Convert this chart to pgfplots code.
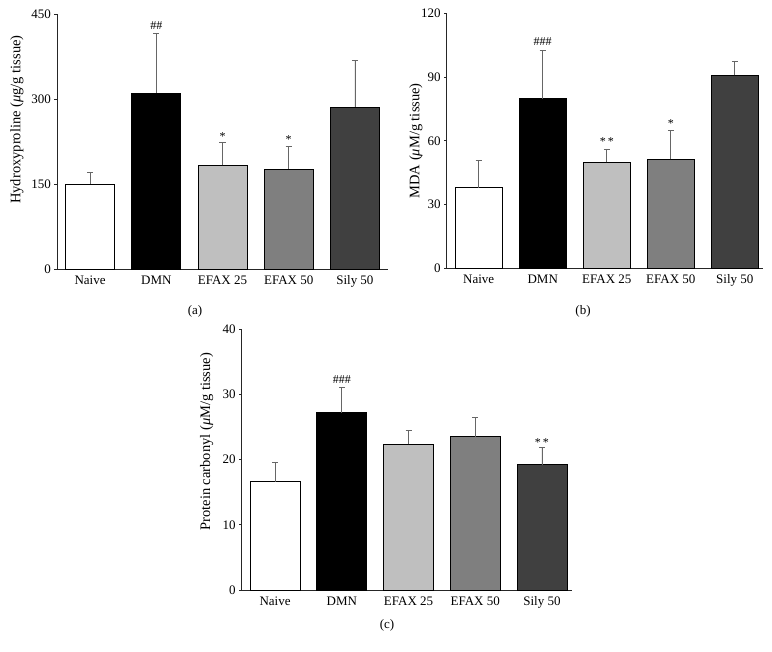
\documentclass[border=0pt]{standalone}
\usepackage{pgfplots}
\pgfplotsset{compat=1.18}
\usepackage{fontspec}
\setmainfont{Liberation Serif}
\definecolor{cA}{HTML}{FFFFFF}
\definecolor{cB}{HTML}{000000}
\definecolor{cC}{HTML}{BFBFBF}
\definecolor{cD}{HTML}{7F7F7F}
\definecolor{cE}{HTML}{404040}
\pgfplotsset{panel/.style={
  scale only axis, anchor=south west, clip=false,
  axis lines=left, axis line style={-, black!85, line width=0.7bp},
  ymin=0, xmin=-0.5,
  xtick={0,1,2,3,4}, xticklabels={Naive,DMN,EFAX 25,EFAX 50,Sily 50},
  x tick style={draw=none},
  y tick style={black!85, line width=0.6bp}, tick align=outside, major tick length=2.5bp,
  ybar, bar shift=0pt,
  tick label style={font=\fontsize{13bp}{15bp}\selectfont},
  x tick label style={text height=9bp, text depth=3bp},
  /pgf/number format/assume math mode=true,
  ylabel style={font=\fontsize{14.5bp}{16bp}\selectfont, anchor=center},
  every axis plot/.append style={draw=black, line width=0.7bp,
    /pgfplots/error bars/y dir=plus, /pgfplots/error bars/y explicit,
    /pgfplots/error bars/error mark=-,
    /pgfplots/error bars/error bar style={black!60, line width=0.7bp},
    /pgfplots/error bars/error mark options={rotate=90, mark size=3bp, black!60, line width=0.7bp}},
}}
\newcommand{\sig}{\fontsize{12bp}{13bp}\selectfont}
\begin{document}
\begin{tikzpicture}
\path[use as bounding box] (0,0) rectangle (772bp,652bp);
% (a)
\begin{axis}[panel, at={(57bp,383bp)}, width=331bp, height=255bp, bar width=49bp,
  xmax=4.5, ymax=450, ytick={0,150,300,450},
  ylabel={Hydroxyproline (\textit{μ}g/g tissue)},
  ylabel style={at={(axis description cs:-0.121,0.586)}}]
\addplot[fill=cA] coordinates {(0,150) +- (0,20.6)};
\addplot[fill=cB] coordinates {(1,310.6) +- (0,105.4)};
\addplot[fill=cC] coordinates {(2,183) +- (0,40)};
\addplot[fill=cD] coordinates {(3,176.5) +- (0,40)};
\addplot[fill=cE] coordinates {(4,286) +- (0,82)};
\node[font=\sig] at (axis cs:1,430) {\#\#};
\node[font=\sig] at (axis cs:2,234) {*};
\node[font=\sig] at (axis cs:3,228) {*};
\end{axis}
% (b)
\begin{axis}[panel, at={(446.7bp,383.7bp)}, width=316.3bp, height=255bp, bar width=47bp,
  xmax=4.44, ymax=120, ytick={0,30,60,90,120},
  ylabel={MDA (\textit{μ}M/g tissue)},
  ylabel style={at={(axis description cs:-0.097,0.5)}}]
\addplot[fill=cA] coordinates {(0,38) +- (0,12.7)};
\addplot[fill=cB] coordinates {(1,79.8) +- (0,22.9)};
\addplot[fill=cC] coordinates {(2,49.9) +- (0,6.3)};
\addplot[fill=cD] coordinates {(3,51.3) +- (0,13.6)};
\addplot[fill=cE] coordinates {(4,90.8) +- (0,6.8)};
\node[font=\sig] at (axis cs:1,106.6) {\#\#\#};
\node[font=\sig] at (axis cs:2,59.4) {*\,*};
\node[font=\sig] at (axis cs:3,68) {*};
\end{axis}
% (c)
\begin{axis}[panel, at={(241.7bp,62bp)}, width=330.3bp, height=261bp, bar width=50bp,
  xmax=4.45, ymax=40, ytick={0,10,20,30,40},
  ylabel={Protein carbonyl (\textit{μ}M/g tissue)},
  ylabel style={at={(axis description cs:-0.106,0.568)}}]
\addplot[fill=cA] coordinates {(0,16.6) +- (0,2.9)};
\addplot[fill=cB] coordinates {(1,27.2) +- (0,3.8)};
\addplot[fill=cC] coordinates {(2,22.3) +- (0,2.1)};
\addplot[fill=cD] coordinates {(3,23.5) +- (0,3.0)};
\addplot[fill=cE] coordinates {(4,19.2) +- (0,2.7)};
\node[font=\sig] at (axis cs:1,32.3) {\#\#\#};
\node[font=\sig] at (axis cs:4,22.6) {*\,*};
\end{axis}
\node[font=\fontsize{13bp}{15bp}\selectfont] at (195bp,341bp) {(a)};
\node[font=\fontsize{13bp}{15bp}\selectfont] at (583bp,341bp) {(b)};
\node[font=\fontsize{13bp}{15bp}\selectfont] at (387bp,27bp) {(c)};
\end{tikzpicture}
\end{document}
